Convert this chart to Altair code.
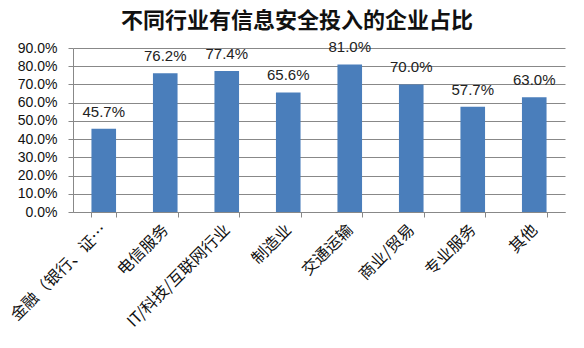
import altair as alt
import pandas as pd

categories = ["金融（银行、证…", "电信服务", "IT/科技/互联网行业", "制造业", "交通运输", "商业/贸易", "专业服务", "其他"]
values = [0.457, 0.762, 0.774, 0.656, 0.810, 0.700, 0.577, 0.630]
y_ticks = [0.0, 0.1, 0.2, 0.3, 0.4, 0.5, 0.6, 0.7, 0.8, 0.9]

df = pd.DataFrame({"cat": categories, "val": values})

x = alt.X("cat:N", sort=categories, title=None,
          scale=alt.Scale(paddingInner=0.6, paddingOuter=0.3),
          axis=alt.Axis(labelAngle=-45, labelAlign="right", labelBaseline="middle",
                        labelFont="Noto Sans CJK SC", labelFontSize=16, labelColor="#111",
                        labelPadding=10, tickBand="extent", tickSize=5, tickColor="#888",
                        domainColor="#888", labelLimit=220, labelOverlap=False))
y = alt.Y("val:Q", title=None,
          scale=alt.Scale(domain=[0, 0.9], nice=False),
          axis=alt.Axis(values=y_ticks, format=".1%", labelFont="Liberation Sans",
                        labelFontSize=14, labelColor="#111", labelPadding=11,
                        labelOverlap=False, tickCount=10,
                        tickSize=5, tickColor="#888", gridColor="#888", domainColor="#888"))

base = alt.Chart(df).encode(x=x, y=y)
bars = base.mark_bar(color="#4a7ebb")
text = base.mark_text(baseline="bottom", dy=-9, font="Liberation Sans",
                      fontSize=15, color="#222").encode(text=alt.Text("val:Q", format=".1%"))

chart = (bars + text).properties(
    width=492, height=164,
    autosize=alt.AutoSizeParams(type="none"),
    padding={"left": 73, "top": 48, "right": 19, "bottom": 136},
    title=alt.TitleParams("不同行业有信息安全投入的企业占比", font="Noto Sans CJK SC",
                          fontSize=22, fontWeight="bold", color="#111",
                          anchor="start", frame="group", dx=48, offset=7),
).configure_view(stroke=None)

chart.save("out.html", embed_options={"renderer": "svg", "actions": False})
